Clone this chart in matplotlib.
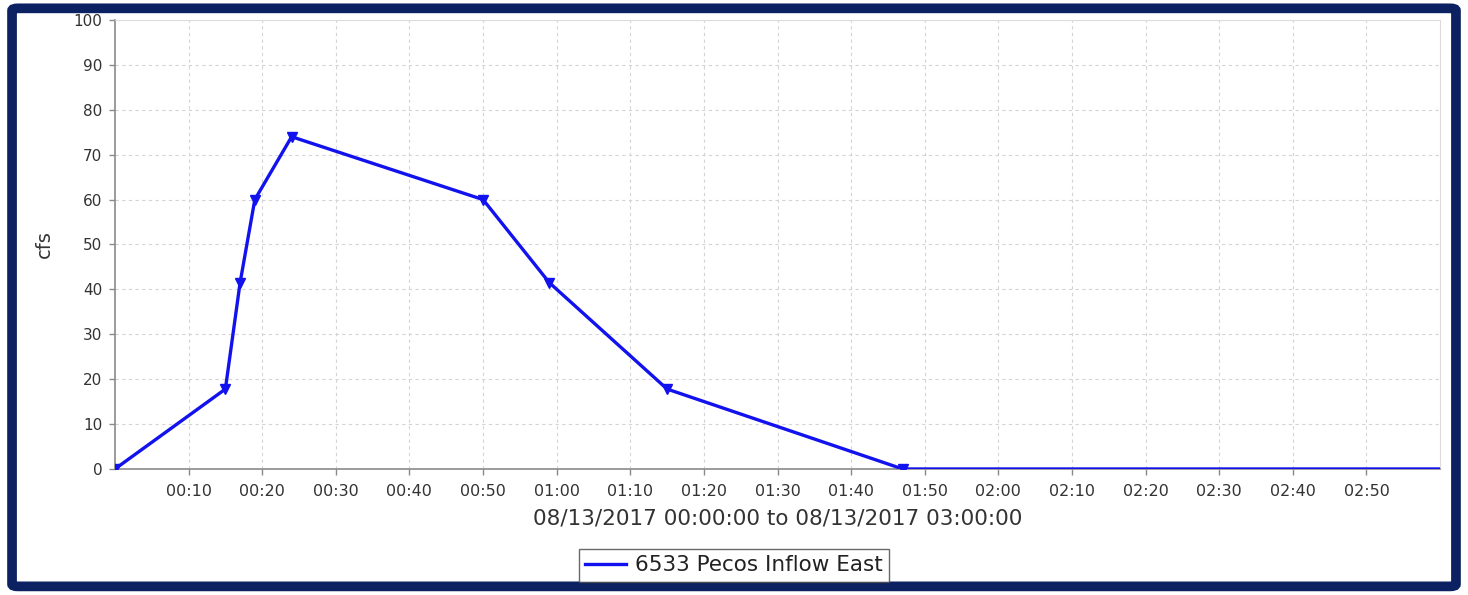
import matplotlib
matplotlib.use('Agg')
import matplotlib.pyplot as plt
from matplotlib.patches import FancyBboxPatch

# flow series, minutes after 08/13/2017 00:00
minutes = [0, 15, 17, 19, 24, 50, 59, 75, 107, 180]
flow_cfs = [0, 17.8, 41.5, 60, 74, 60, 41.5, 17.8, 0, 0]
series_name = '6533 Pecos Inflow East'
tick_minutes = list(range(10, 180, 10))
tick_labels = ['%02d:%02d' % (m // 60, m % 60) for m in tick_minutes]
y_ticks = list(range(0, 101, 10))

fig = plt.figure(figsize=(14.68, 5.95), dpi=100)

# navy frame around the whole picture
frame = FancyBboxPatch((0.0082, 0.0145), 0.9836, 0.9715,
                       boxstyle='round,pad=0,rounding_size=0.004',
                       transform=fig.transFigure, facecolor='white',
                       edgecolor='#0b2161', linewidth=7, zorder=-10)
fig.patches.append(frame)

ax = fig.add_axes([0.0783, 0.2118, 0.9027, 0.7546])
ax.set_facecolor('white')

ax.plot(minutes, flow_cfs, color='#1212ee', linewidth=2.4,
        marker='v', markersize=7.5, markevery=list(range(len(minutes) - 1)),
        label=series_name, zorder=3)

ax.set_xlim(0, 180)
ax.set_ylim(0, 100)
ax.set_xticks(tick_minutes)
ax.set_xticklabels(tick_labels)
ax.set_yticks(y_ticks)

ax.grid(True, color='#d4d4d4', linestyle=(0, (3, 3)), linewidth=0.8)
ax.set_axisbelow(True)

for side in ['top', 'right']:
    ax.spines[side].set_color('#dcdcdc')
    ax.spines[side].set_linewidth(0.8)
for side in ['left', 'bottom']:
    ax.spines[side].set_color('#8a8a8a')
    ax.spines[side].set_linewidth(1.2)

ax.tick_params(axis='both', colors='#8a8a8a', labelcolor='#333333',
               length=4, width=1)
ax.tick_params(axis='x', labelsize=11.5, pad=7)
ax.tick_params(axis='y', labelsize=11, pad=5)

ax.set_xlabel('08/13/2017 00:00:00 to 08/13/2017 03:00:00',
              fontsize=15.5, color='#333333', labelpad=7)
ax.set_ylabel('cfs', fontsize=14, color='#333333', labelpad=14)

leg = fig.legend(handles=ax.get_lines(), labels=[series_name],
                 loc='center', bbox_to_anchor=(0.5, 0.05),
                 fontsize=15.5, frameon=True, fancybox=False,
                 handlelength=1.9, handletextpad=0.4, borderpad=0.3,
                 borderaxespad=0)
leg.get_frame().set_edgecolor('#444444')
leg.get_frame().set_linewidth(1.0)
for h in leg.get_lines():
    h.set_marker('')
for t in leg.get_texts():
    t.set_color('#222222')

fig.savefig('out.png', dpi=100)
